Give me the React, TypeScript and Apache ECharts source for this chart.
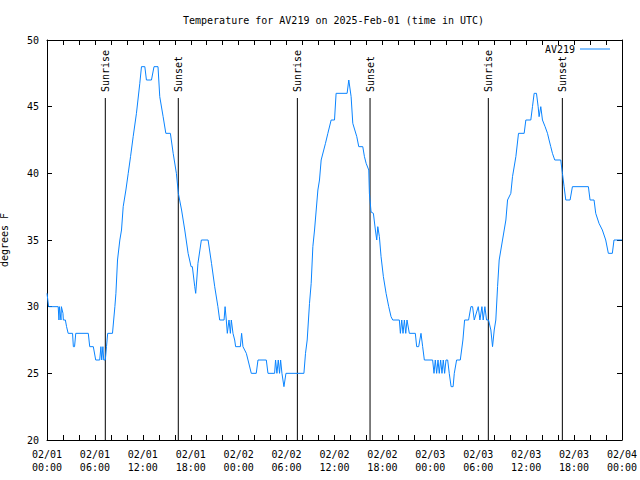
import React, { useEffect, useRef } from "react";
import * as echarts from "echarts";

// Hours since 2025-02-01 00:00 UTC, temperature in °F
const tempHours: number[] = [
  0.0, 0.2, 1.4, 1.5, 1.55, 1.75, 1.8, 2.0, 2.05, 2.3, 2.45, 2.65, 3.2, 3.3, 3.45, 3.6, 5.17, 5.35, 5.8, 6.1,
  6.6, 6.75, 6.85, 7.0, 7.1, 7.3, 7.45, 7.6, 8.2, 8.35, 8.5, 8.63, 8.71, 8.83, 9.12, 9.33, 9.54, 9.88, 10.17, 10.46,
  10.79, 11.2, 11.62, 11.83, 12.25, 12.45, 13.08, 13.4, 13.9, 14.12, 14.54, 14.88, 15.45, 15.8, 16.2, 16.45, 16.85, 17.25, 17.67, 18.04,
  18.2, 18.5, 18.62, 18.75, 18.9, 19.33, 20.17, 20.6, 21.0, 21.4, 21.62, 22.17, 22.3, 22.45, 22.58, 22.79, 22.96, 23.08, 23.29, 23.5,
  23.62, 24.21, 24.37, 24.54, 24.96, 25.17, 25.58, 26.2, 26.42, 27.46, 27.67, 28.5, 28.62, 28.79, 28.96, 29.12, 29.25, 29.42, 29.67, 29.92,
  32.17, 32.37, 32.58, 32.87, 33.08, 33.29, 33.5, 33.71, 33.92, 34.12, 34.33, 34.87, 35.17, 35.58, 36.0, 36.2, 37.58, 37.79, 38.08, 38.29,
  38.79, 39.04, 39.54, 39.75, 39.96, 40.29, 40.37, 40.58, 40.87, 41.12, 41.29, 41.42, 41.62, 41.83, 42.12, 42.46, 42.79, 43.08, 43.29, 44.12,
  44.25, 44.42, 44.58, 44.75, 44.92, 45.08, 45.37, 46.12, 46.29, 46.54, 46.83, 47.04, 47.25, 48.29, 48.46, 48.62, 48.79, 48.96, 49.12, 49.29,
  49.46, 49.62, 49.79, 49.96, 50.17, 50.37, 50.6, 50.85, 51.0, 51.29, 51.75, 52.08, 52.29, 52.79, 53.08, 53.29, 53.5, 54.0, 54.21, 54.46,
  54.62, 54.83, 55.04, 55.29, 55.58, 55.79, 56.0, 56.2, 56.42, 56.62, 57.04, 57.46, 57.67, 58.08, 58.29, 58.71, 59.04, 59.75, 59.96, 60.58,
  60.79, 61.0, 61.29, 61.5, 61.62, 61.83, 62.04, 62.37, 62.67, 62.87, 63.08, 63.29, 63.58, 64.33, 64.54, 64.75, 64.96, 65.5, 65.79, 67.79,
  68.0, 68.5, 68.71, 69.12, 69.54, 69.96, 70.29, 70.79, 71.0, 72.0,
];
const tempValues: number[] = [
  31, 30, 30, 29, 30, 29, 30, 29.5, 29, 29, 28.5, 28, 28, 27, 27, 28, 28, 27, 27, 26,
  26, 27, 26, 27, 26, 26, 27, 28, 28, 29, 30, 31, 32, 33.5, 35, 35.75, 37.5, 38.75, 40, 41.25,
  42.75, 44.5, 46.75, 48, 48, 47, 47, 48, 48, 45.75, 44.25, 43, 43, 41.5, 40, 38.5, 37.25, 35.75, 34, 33,
  33, 31.5, 31, 32, 33.25, 35, 35, 33.25, 31.5, 30, 29, 29, 30, 29, 28, 29, 28, 29, 28, 27.5,
  27, 27, 28, 27, 26.5, 26, 25, 25, 26, 26, 25, 25, 26, 25, 26, 25, 26, 25, 24, 25,
  25, 26.5, 27.5, 30.25, 31.75, 34.5, 35.75, 37.25, 38.75, 39.5, 41, 42.25, 43, 44, 44, 46, 46, 47, 45.75, 43.75,
  42.75, 42, 42, 41.25, 40.75, 40.25, 38.5, 37.1, 37, 35.75, 35, 36, 35.25, 33.75, 32.25, 31, 30, 29.25, 29, 29,
  28, 29, 28, 29, 28, 29, 28, 28, 27, 27, 28, 27, 26, 26, 25, 26, 25, 26, 25, 26,
  25, 26, 25, 26, 26, 25, 24, 24, 25, 26, 26, 27.5, 29, 29, 30, 30, 29, 30, 29, 30,
  29, 30, 29, 29, 28.25, 27, 28.25, 29, 31.5, 33.5, 35, 36.5, 38, 38.5, 39.75, 41.25, 43, 43, 44, 44,
  45, 46, 46, 45, 44.25, 45, 44, 43.5, 43, 42.5, 42, 41.5, 41, 41, 40, 39, 38, 38, 39, 39,
  38, 38, 37, 36.25, 35.75, 35, 34, 34, 35, 35,
];

const sunLabels: string[] = ["Sunrise", "Sunset", "Sunrise", "Sunset", "Sunrise", "Sunset"];
const sunHours: number[] = [7.3, 16.44, 31.35, 40.45, 55.26, 64.53];

const yTicks = { min: 20, max: 50, interval: 5 };
const xTicks = { min: 0, max: 72, interval: 2, labelEvery: 6 };
const dayLabels: string[] = ["02/01", "02/02", "02/03", "02/04"];

const FONT = "DejaVu Sans Mono";
const BLUE = "#0a84ff";

export default function App() {
  const ref = useRef<HTMLDivElement>(null);
  useEffect(() => {
    document.body.style.margin = "0";
    if (!ref.current) return;
    const chart = echarts.init(ref.current, null, { renderer: "svg" });
    const seriesData = tempHours.map((h, i) => [h, tempValues[i]]);
    const sunData = sunHours.map((h, i) => [h, i]);
    const axisCommon = {
      axisLine: { show: true, onZero: false, lineStyle: { color: "#000", width: 1 } },
      axisTick: { show: true, inside: true, length: 5, lineStyle: { color: "#000" } },
      splitLine: { show: false },
    };
    const xFmt = (v: number) => {
      if (v % xTicks.labelEvery !== 0) return "";
      const d = Math.floor(v / 24);
      const hh = v % 24;
      return `${dayLabels[d]}\n${String(hh).padStart(2, "0")}:00`;
    };
    chart.setOption({
      animation: false,
      title: {
        text: "Temperature for AV219 on 2025-Feb-01 (time in UTC)",
        left: 183,
        top: 15,
        padding: 0,
        textStyle: { fontFamily: FONT, fontSize: 10, fontWeight: "normal", color: "#000" },
      },
      legend: {
        data: ["AV219"],
        right: 30,
        top: 44,
        align: "right",
        icon: "rect",
        itemWidth: 30,
        itemHeight: 1,
        padding: 0,
        itemStyle: { color: BLUE },
        textStyle: { fontFamily: FONT, fontSize: 10, color: "#000" },
      },
      grid: { left: 47, right: 18, top: 40, bottom: 40, containLabel: false, outerBoundsMode: "none" },
      xAxis: [
        {
          type: "value",
          position: "bottom",
          min: xTicks.min,
          max: xTicks.max,
          interval: xTicks.interval,
          ...axisCommon,
          axisLabel: {
            formatter: xFmt,
            fontFamily: FONT,
            fontSize: 10,
            color: "#000",
            lineHeight: 13,
            margin: 8,
          },
        },
        {
          type: "value",
          position: "top",
          min: xTicks.min,
          max: xTicks.max,
          interval: xTicks.interval,
          ...axisCommon,
          axisLabel: { show: false },
        },
      ],
      yAxis: [
        {
          type: "value",
          position: "left",
          min: yTicks.min,
          max: yTicks.max,
          interval: yTicks.interval,
          ...axisCommon,
          name: "degrees F",
          nameLocation: "middle",
          nameRotate: 90,
          nameGap: 38,
          nameTextStyle: { fontFamily: FONT, fontSize: 10, color: "#000" },
          axisLabel: { fontFamily: FONT, fontSize: 10, color: "#000", margin: 8 },
        },
        {
          type: "value",
          position: "right",
          min: yTicks.min,
          max: yTicks.max,
          interval: yTicks.interval,
          ...axisCommon,
          axisLabel: { show: false },
        },
      ],
      series: [
        {
          type: "custom",
          name: "sun",
          data: sunData,
          encode: { x: 0, y: 1 },
          clip: false,
          silent: true,
          renderItem: (params: any, api: any) => {
            const t = api.value(0);
            const p0 = api.coord([t, 20]);
            const p1 = api.coord([t, 45.65]);
            const pt = api.coord([t, 46.1]);
            return {
              type: "group",
              children: [
                {
                  type: "line",
                  shape: { x1: p0[0], y1: p0[1], x2: p1[0], y2: p1[1] },
                  style: { stroke: "#000", lineWidth: 1 },
                },
                {
                  type: "text",
                  x: pt[0],
                  y: pt[1],
                  rotation: Math.PI / 2,
                  style: {
                    text: sunLabels[params.dataIndex],
                    align: "left",
                    verticalAlign: "middle",
                    fontFamily: FONT,
                    fontSize: 10,
                    fill: "#000",
                  },
                },
              ],
            };
          },
        },
        {
          type: "line",
          name: "AV219",
          data: seriesData,
          symbol: "none",
          showSymbol: false,
          lineStyle: { color: BLUE, width: 1 },
          itemStyle: { color: BLUE },
        },
      ],
    });
    return () => chart.dispose();
  }, []);
  return <div ref={ref} style={{ width: 640, height: 480 }} />;
}
